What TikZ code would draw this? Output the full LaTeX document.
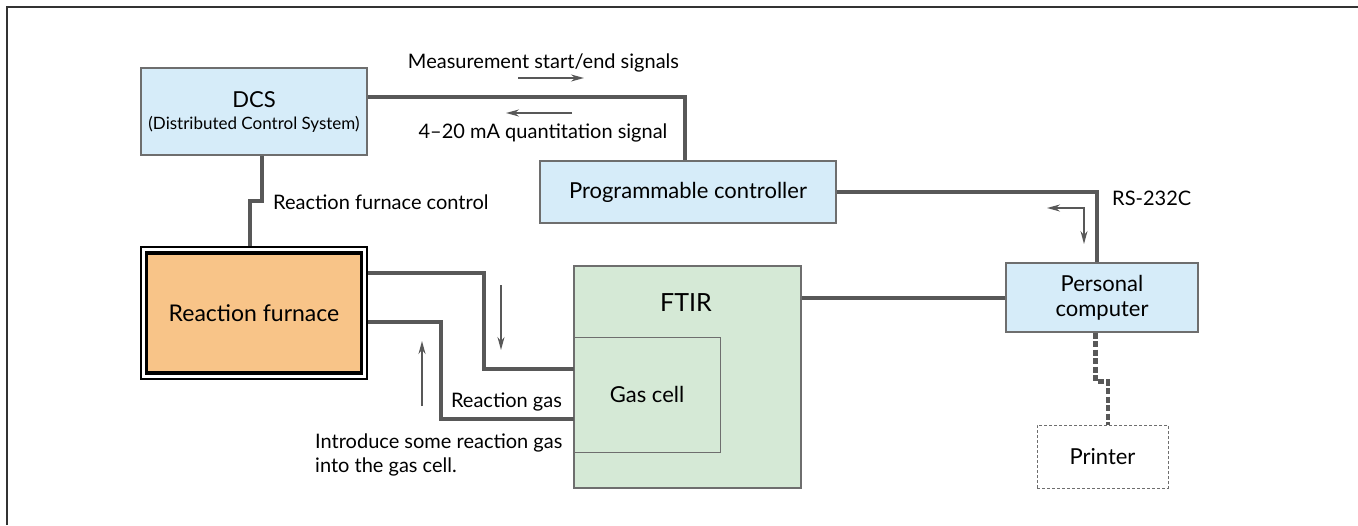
\documentclass[tikz,border=0pt]{standalone}
\usepackage{fontspec}
\setmainfont{Lato}
\usetikzlibrary{arrows.meta}

\definecolor{pcblue}{RGB}{214,236,249}
\definecolor{ftirgreen}{RGB}{213,233,214}
\definecolor{furnorange}{RGB}{248,196,136}
\definecolor{pipegray}{RGB}{88,88,88}
\definecolor{edgegray}{RGB}{110,110,110}

\tikzset{
  unitbox/.style={draw=edgegray, line width=1.3pt, fill=pcblue, inner sep=0pt,
    align=center, font=\fontsize{22}{25}\selectfont},
  pipe/.style={draw=pipegray, line width=4pt},
  tipsig/.tip={Stealth[length=13pt,width=7pt]},
  sig/.style={draw=pipegray, line width=1.5pt, -tipsig},
  lbl/.style={inner sep=0pt, font=\fontsize{20}{24}\selectfont}
}

\begin{document}
\begin{tikzpicture}[x=1pt,y=-1pt]
\useasboundingbox (0,0) rectangle (1358,525);

 % open frame
 \draw[line width=1.2pt, black!80] (7,525) -- (7,7) -- (1358,7);

 % control side
 \node[unitbox, minimum width=226pt, minimum height=87pt] (dcs) at (254,111.5)
   {DCS\\[-3pt]{\fontsize{17}{20}\selectfont (Distributed Control System)}};
 \node[unitbox, minimum width=296pt, minimum height=62pt] (prog) at (688,192) {Programmable controller};
 \node[unitbox, minimum width=192pt, minimum height=69pt] (pc) at (1102,297.5) {Personal\\computer};
 \node[unitbox, fill=white, line width=1pt, dash pattern=on 3pt off 2pt,
   minimum width=131pt, minimum height=63pt] (printer) at (1102.5,456.5) {Printer};

 % FTIR with its gas cell
 \node[unitbox, fill=ftirgreen, minimum width=227pt, minimum height=222pt] (ftir) at (687.5,377) {};
 \node[inner sep=0pt, font=\fontsize{25}{28}\selectfont] (ftirname) at (686,303) {FTIR};
 \node[unitbox, fill=ftirgreen, line width=1pt, minimum width=146pt, minimum height=115pt] (gascell) at (647,394.5) {Gas cell};

 % furnace, double border
 \node[draw=black, line width=1.2pt, fill=white, minimum width=226pt, minimum height=132pt, inner sep=0pt] (furnace) at (254,313) {};
 \node[draw=black, line width=3.5pt, fill=furnorange, minimum width=215pt, minimum height=120pt,
   inner sep=0pt, font=\fontsize{23}{26}\selectfont] (furnacein) at (furnace) {Reaction furnace};

 % cables
 \draw[pipe] ([yshift=14.5pt]dcs.east) -| ([xshift=-3pt]prog.north);
 \draw[pipe] ([xshift=8pt]dcs.south) -- ++(0,45) -| ([xshift=-4pt]furnace.north);
 \draw[pipe] (prog.east) -| ([xshift=-5pt]pc.north);
 \draw[pipe] (ftir.east |- pc.west) -- (pc.west);
 \draw[pipe, line width=4.5pt, dash pattern=on 6pt off 2.5pt] ([xshift=-6.5pt]pc.south) -- ++(0,49) -| ([xshift=5.5pt]printer.north);

 % gas lines
 \draw[pipe] ([yshift=40pt]furnace.east) -- ++(116,0) |- ([yshift=25.5pt]gascell.west);
 \draw[pipe] ([yshift=-9pt]furnace.east) -- ++(73,0) |- ([yshift=-24.5pt]gascell.west);

 % signal directions
 \draw[sig] (518,78) -- (584,78);
 \draw[sig] (572,113) -- (506,113);
 \draw[sig] (501,285) -- (501,350);
 \draw[sig] (422,406) -- (422,341);
 \draw[sig, tipsig-tipsig] (1047,208) -| (1084,244);

 % texts
 \node[lbl] (meas) at (543.5,63) {Measurement start/end signals};
 \node[lbl] (quant) at (543,133) {4--20 mA quantitation signal};
 \node[lbl, anchor=west] (rfctl) at (273,202) {Reaction furnace control};
 \node[lbl, anchor=west] (rs) at (1112,198) {RS-232C};
 \node[lbl] (rgas) at (506.5,402) {Reaction gas};
 \node[lbl, anchor=west, align=left] (intro) at (315,455) {Introduce some reaction gas\\into the gas cell.};

\end{tikzpicture}
\end{document}
